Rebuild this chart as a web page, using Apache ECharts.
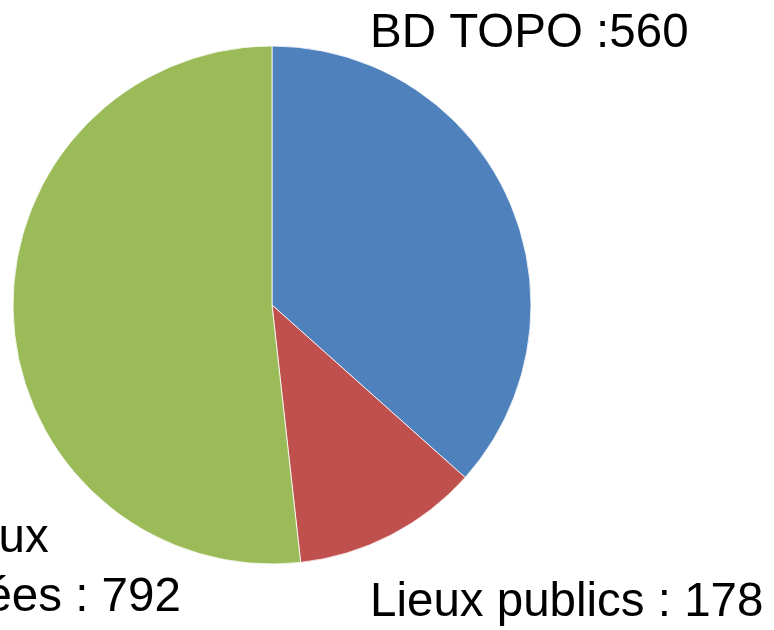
<!DOCTYPE html>
<html>
<head>
<meta charset="utf-8">
<script src="https://cdn.jsdelivr.net/npm/echarts@6/dist/echarts.min.js"></script>
<style>html,body{margin:0;padding:0;background:#fff;}#c{width:774px;height:630px;}</style>
</head>
<body>
<div id="c"></div>
<script>
var categories = ['BD TOPO', 'Lieux publics', 'Lieux\nrenseignées'];
var values = [560, 178, 792];
var separators = [' :', ' : ', ' : '];
var colors = ['#4F81BD', '#C0504D', '#9BBB59'];

var labelSpots = [
  {x: 370, y: 34, align: 'left'},
  {x: 370, y: 603, align: 'left'},
  {x: -8, y: 568, align: 'center'}
];

var chart = echarts.init(document.getElementById('c'), null, {renderer: 'canvas'});
chart.setOption({
  animation: false,
  backgroundColor: '#ffffff',
  series: [{
    type: 'pie',
    center: [272, 305],
    radius: 259,
    startAngle: 90,
    clockwise: true,
    avoidLabelOverlap: false,
    data: categories.map(function (c, i) {
      return {name: c, value: values[i], itemStyle: {color: colors[i]}};
    }),
    itemStyle: {borderColor: '#ffffff', borderWidth: 0.8},
    label: {
      show: true,
      position: 'outside',
      fontFamily: 'Liberation Sans, Arial, sans-serif',
      fontSize: 47.5,
      lineHeight: 59,
      color: '#000000',
      formatter: function (p) {
        return p.name + separators[p.dataIndex] + p.value;
      }
    },
    labelLine: {show: false},
    emphasis: {disabled: true},
    labelLayout: function (params) {
      var s = labelSpots[params.dataIndex];
      return {x: s.x, y: s.y, align: s.align, verticalAlign: 'middle', hideOverlap: false};
    }
  }]
});
</script>
</body>
</html>
